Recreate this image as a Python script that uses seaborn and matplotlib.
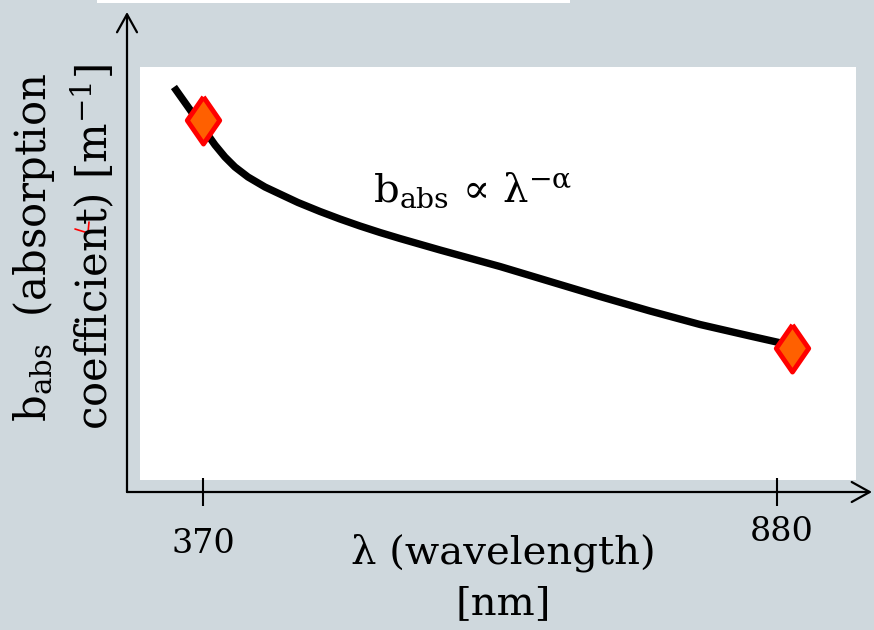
import matplotlib
matplotlib.use("Agg")
import matplotlib.pyplot as plt
import matplotlib.transforms as mtransforms
from matplotlib.patches import Rectangle
from matplotlib.markers import MarkerStyle
from matplotlib.lines import Line2D
import seaborn as sns

# ---- data ----
wavelength_curve = [344.2, 380.7, 389.5, 398.4, 410.0, 425.1, 440.2, 454.4, 474.0,
                    491.7, 509.5, 527.3, 545.0, 580.6, 616.1, 633.9, 678.3, 722.7,
                    767.2, 811.6, 856.0, 891.5]
b_abs_curve = [4.05, 3.47, 3.35, 3.25, 3.15, 3.05, 2.97, 2.895, 2.805,
               2.73, 2.66, 2.595, 2.535, 2.42, 2.31, 2.255, 2.105, 1.955,
               1.81, 1.675, 1.56, 1.47]
wavelength_points = [370, 893.3]
b_abs_points = [3.72, 1.44]
tick_values = [370, 880]
tick_labels = ["370", "880"]

BG = "#CFD8DD"

sns.set_theme(style="white")
plt.rcParams["font.family"] = ["DejaVu Serif"]
plt.rcParams["mathtext.fontset"] = "dejavuserif"
plt.rcParams["text.color"] = "black"

W, H = 874, 630
fig = plt.figure(figsize=(W / 100, H / 100), dpi=100, facecolor=BG)


def fx(px):
    return px / W


def fy(py):
    return 1 - py / H


# white plotting panel and top strip
fig.patches.append(Rectangle((fx(140), fy(480)), fx(856) - fx(140), fy(67) - fy(480),
                             transform=fig.transFigure, facecolor="white",
                             edgecolor="none", zorder=-1))
fig.patches.append(Rectangle((fx(97), fy(2.5)), fx(570) - fx(97), fy(0) - fy(2.5),
                             transform=fig.transFigure, facecolor="white",
                             edgecolor="none", zorder=-1))

ax = fig.add_axes([fx(127), fy(492), fx(872) - fx(127), fy(12) - fy(492)])
ax.patch.set_alpha(0)
for s in ax.spines.values():
    s.set_visible(False)
ax.set_xlim(302.5, 964.4)
ax.set_ylim(0, 4.8)

# curve and markers
sns.lineplot(x=wavelength_curve, y=b_abs_curve, sort=False, estimator=None,
             color="black", linewidth=5.3, ax=ax, solid_capstyle="butt",
             solid_joinstyle="round", zorder=2)
diamond = MarkerStyle([(0, 1), (0.69, 0), (0, -1), (-0.69, 0), (0, 1)])
sns.scatterplot(x=wavelength_points, y=b_abs_points, marker=diamond, s=1150,
                color="#FF6000", edgecolor="#FF0000", linewidth=3.5, ax=ax,
                zorder=3, legend=False)

# axis arrows
arrow_kw = dict(arrowstyle="->,head_length=0.72,head_width=0.4", lw=1.6,
                color="black", mutation_scale=18, shrinkA=0, shrinkB=0)
ax.annotate("", xy=(1, 0), xytext=(0, 0), xycoords="axes fraction",
            textcoords="axes fraction", arrowprops=arrow_kw)
ax.annotate("", xy=(0, 1), xytext=(0, 0), xycoords="axes fraction",
            textcoords="axes fraction", arrowprops=arrow_kw)

# ticks
ax.set_yticks([])
ax.set_xticks(tick_values)
ax.set_xticklabels(tick_labels)
ax.tick_params(axis="x", direction="inout", length=20, width=1.5, colors="black",
               labelsize=24, pad=16, bottom=True)
lbls = ax.get_xticklabels()
lbls[1].set_transform(lbls[1].get_transform() +
                      mtransforms.ScaledTranslation(5 / 100, 12 / 100, fig.dpi_scale_trans))

# formula annotation
ax.text(521, 2.90, r"b$_{\mathrm{abs}}$ ∝ λ$^{\mathrm{-α}}$", fontsize=29,
        ha="left", va="baseline", color="black")

# axis labels
fig.text(fx(503), fy(578), "λ (wavelength)\n[nm]", ha="center", va="center",
         fontsize=29, linespacing=1.45, multialignment="center", color="black")
fig.text(fx(64), fy(247),
         "b$_{\\mathrm{abs}}$  (absorption\ncoefficient) [m$^{\\mathrm{-1}}$]",
         rotation=90, ha="center", va="center", fontsize=30, linespacing=1.3,
         multialignment="center", color="black")

# small red stroke over the y label
fig.add_artist(Line2D([fx(75), fx(88), fx(89)], [fy(229), fy(233), fy(222)],
                      color="red", lw=1.2))

fig.savefig("out.png", dpi=100, facecolor=BG)
